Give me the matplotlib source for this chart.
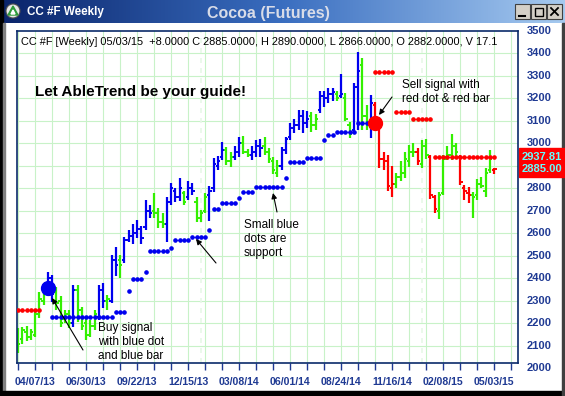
import numpy as np
import matplotlib
matplotlib.use('Agg')
import matplotlib.pyplot as plt
from matplotlib.patches import Rectangle, Circle, Polygon
from matplotlib.colors import LinearSegmentedColormap
from matplotlib.transforms import blended_transform_factory

plt.rcParams['font.family'] = ['Liberation Sans', 'DejaVu Sans']

# # Data (weekly bars, 03/10/13 .. 05/03/15)

highs = [2180, 2185, 2190, 2175, 2260, 2340, 2360, 2430, 2415, 2360,
         2320, 2260, 2260, 2370, 2370, 2275, 2230, 2215, 2260, 2370,
         2380, 2325, 2505, 2540, 2505, 2585, 2615, 2640, 2660, 2635,
         2750, 2725, 2780, 2715, 2690, 2760, 2825, 2800, 2845, 2790,
         2835, 2825, 2760, 2705, 2780, 2810, 2935, 2945, 3005, 2985,
         2960, 2990, 3030, 3035, 2975, 2990, 3015, 3020, 3030, 2980,
         2940, 2925, 2985, 3030, 3090, 3110, 3150, 3150, 3145, 3140,
         3130, 3235, 3235, 3245, 3245, 3235, 3310, 3225, 3095, 3270,
         3405, 3380, 3170, 3215, 3185, 3090, 2960, 2950, 2900, 2870,
         2920, 2960, 2995, 3000, 2980, 3015, 3020, 2950, 2770, 2785,
         2950, 2990, 3040, 3000, 2950, 2815, 2805, 2785, 2840, 2850,
         2890, 2970, 2890]

lows = [2070, 2110, 2120, 2125, 2140, 2225, 2280, 2320, 2295, 2260,
        2185, 2200, 2180, 2185, 2205, 2170, 2125, 2140, 2170, 2215,
        2270, 2260, 2290, 2410, 2400, 2470, 2560, 2555, 2580, 2555,
        2615, 2670, 2670, 2625, 2625, 2560, 2725, 2740, 2745, 2725,
        2750, 2770, 2650, 2650, 2690, 2655, 2785, 2880, 2925, 2905,
        2895, 2925, 2940, 2955, 2940, 2925, 2940, 2940, 2950, 2915,
        2865, 2850, 2880, 2955, 3015, 3045, 3060, 3045, 3070, 3050,
        3060, 3135, 3160, 3180, 3190, 3190, 3200, 3100, 3025, 3045,
        3060, 3060, 3060, 3025, 3070, 2890, 2880, 2790, 2760, 2800,
        2835, 2845, 2895, 2940, 2905, 2890, 2930, 2755, 2690, 2665,
        2770, 2925, 2925, 2940, 2815, 2750, 2735, 2670, 2750, 2800,
        2760, 2870, 2866]

opens = [2150, 2130, 2160, 2140, 2150, 2240, 2300, 2340, 2400, 2340,
         2300, 2220, 2240, 2200, 2350, 2260, 2200, 2150, 2190, 2230,
         2350, 2300, 2300, 2480, 2480, 2480, 2570, 2590, 2600, 2620,
         2630, 2700, 2700, 2690, 2650, 2640, 2740, 2790, 2760, 2780,
         2760, 2800, 2740, 2670, 2700, 2770, 2800, 2900, 2940, 2970,
         2920, 2940, 2960, 3000, 2960, 2950, 2960, 2990, 2990, 2960,
         2920, 2870, 2900, 2970, 3030, 3070, 3080, 3120, 3090, 3120,
         3080, 3150, 3210, 3200, 3220, 3220, 3210, 3200, 3080, 3060,
         3250, 3350, 3120, 3080, 3170, 3070, 2930, 2920, 2800, 2820,
         2850, 2870, 2920, 2960, 2960, 2910, 2990, 2940, 2760, 2700,
         2780, 2940, 2950, 2990, 2940, 2800, 2780, 2770, 2770, 2820,
         2790, 2880, 2882]

closes = [2110, 2170, 2140, 2160, 2240, 2310, 2340, 2400, 2330, 2290,
          2200, 2240, 2200, 2350, 2260, 2190, 2150, 2190, 2240, 2350,
          2300, 2310, 2480, 2460, 2460, 2570, 2590, 2600, 2620, 2580,
          2700, 2690, 2690, 2650, 2640, 2740, 2800, 2760, 2800, 2740,
          2800, 2790, 2670, 2690, 2760, 2790, 2910, 2920, 2970, 2920,
          2940, 2960, 3000, 2960, 2950, 2960, 2990, 2980, 2960, 2930,
          2880, 2900, 2970, 3020, 3070, 3080, 3120, 3090, 3110, 3080,
          3110, 3210, 3200, 3220, 3230, 3200, 3220, 3110, 3040, 3250,
          3320, 3120, 3080, 3180, 3090, 2930, 2920, 2810, 2820, 2850,
          2870, 2930, 2960, 2960, 2920, 2990, 2950, 2770, 2710, 2770,
          2930, 2950, 2990, 2960, 2830, 2790, 2770, 2760, 2820, 2810,
          2870, 2930, 2885]

# b = up trend (blue), g = neutral (green), r = down trend (red)
bar_trend = list("ggggggg" "bb" "gggg" "b" "ggggg" "bb" "g" "bb" "g" "bbbbbbb"
                 "ggg" "bbbb" "g" "bb" "ggg" "bbbb" "gg" "bb" "gg" "bbb" "gggg"
                 "bbbbbbb" "gg" "bbbb" "g" "b" "gg" "bb" "gg" "b" "rrrrr"
                 "ggggg" "r" "gg" "rr" "ggggg" "rrr" "ggggg" "r")

# support dots (blue) : start bar, end bar, level
support_start = [8, 23, 26, 27, 30, 31, 36, 37, 41, 45, 46, 48, 52, 53, 56, 63, 64, 68, 72, 73, 75, 80]
support_end = [22, 25, 26, 29, 30, 35, 36, 40, 44, 45, 47, 51, 52, 55, 62, 63, 67, 71, 72, 74, 79, 83]
support_level = [2228, 2252, 2343, 2397, 2428, 2523, 2534, 2573, 2585, 2615, 2708,
                 2734, 2757, 2784, 2805, 2845, 2918, 2934, 3015, 3037, 3050, 3090]

# resistance dots (red)
resist_start = [0, 84, 89, 93, 98]
resist_end = [5, 88, 92, 97, 112]
resist_level = [2260, 3317, 3138, 3108, 2937.81]

# signals
buy_bar, buy_price = 7, 2357
sell_bar, sell_price = 84, 3092

date_pos = [4, 16, 28, 40, 52, 64, 76, 88, 100, 112]
date_labels = ['04/07/13', '06/30/13', '09/22/13', '12/15/13', '03/08/14',
               '06/01/14', '08/24/14', '11/16/14', '02/08/15', '05/03/15']
price_labels = [3500, 3400, 3300, 3200, 3100, 3000, 2800, 2700, 2600,
                2500, 2400, 2300, 2200, 2100, 2000]
last_values = ['2937.81', '2885.00']

W, H = 565, 396
NAVY = '#1F3A93'
colors = {'b': '#0000EE', 'g': '#33F000', 'r': '#FF0000'}

fig = plt.figure(figsize=(W / 100, H / 100), dpi=100)

# # Window frame (pixel coordinates)
bg = fig.add_axes([0, 0, 1, 1], zorder=0)
grad = np.linspace(0, 1, 256).reshape(1, -1)
cmap = LinearSegmentedColormap.from_list('titlebar', ['#0A246A', '#3A6EC0', '#A6CAF0'])
bg.imshow(grad, extent=(0, W, 23, 0), aspect='auto', cmap=cmap)
bg.set_xlim(0, W)
bg.set_ylim(H, 0)
bg.axis('off')
bg.add_patch(Rectangle((0, 0), 3, H, color='black'))
bg.add_patch(Rectangle((3, 23), 2, H, color='#808080'))
bg.add_patch(Rectangle((0, 391), W, 5, color='black'))
bg.add_patch(Rectangle((562, 23), 3, H, color='#404040'))

# icon
bg.add_patch(Circle((13, 11), 7, facecolor='#E8E8E8', edgecolor='#505050', lw=0.8))
bg.add_patch(Polygon([(8, 15), (13, 6), (18, 15)], color='#2E9A3A'))
bg.add_patch(Polygon([(11, 14), (13, 10), (15, 14)], color='white'))
bg.text(27, 11.5, 'CC #F Weekly', color='white', fontsize=8.4, fontweight='bold', va='center')
bg.text(268, 13.5, 'Cocoa (Futures)', color='#D8DCE8', fontsize=11.5, fontweight='bold',
        ha='center', va='center')

# window buttons
for bx in [515, 531, 547]:
    bg.add_patch(Rectangle((bx, 4), 15, 15, facecolor='#D4D0C8', edgecolor='#404040', lw=0.8))
bg.plot([519, 525], [16, 16], color='black', lw=1.5)
bg.add_patch(Rectangle((534.5, 7.5), 8, 8, facecolor='none', edgecolor='black', lw=1))
bg.plot([551, 558], [8, 15], color='black', lw=1.3)
bg.plot([551, 558], [15, 8], color='black', lw=1.3)

# last value box
bg.add_patch(Rectangle((519, 148), 46, 29, color='#FF0000'))
bg.text(542, 156.5, last_values[0], color='#66FFFF', fontsize=8, fontweight='bold', ha='center', va='center')
bg.text(542, 169.5, last_values[1], color='#66FFFF', fontsize=8, fontweight='bold', ha='center', va='center')

# # Price chart
ax = fig.add_axes([17 / W, 1 - 363 / H, 501 / W, 332 / H], zorder=1)
ax.set_facecolor('white')
ax.set_xlim(-0.25, 117.6)
ax.set_ylim(2024, 3500)

for p in range(2100, 3500, 100):
    ax.axhline(p, color='#C8F2C8', lw=0.8, zorder=0)
for k in range(0, 118, 4):
    ax.axvline(k, color='#C8F2C8', lw=0.8, zorder=0)
for k in [43, 95]:
    ax.axvline(k, color='#E8F8E8', lw=1.2, ls=(0, (3, 3)), zorder=0)

x = np.arange(len(highs))
for k in x:
    c = colors[bar_trend[k]]
    ax.vlines(k, lows[k], highs[k], color=c, lw=1.6, zorder=2)
    ax.hlines(opens[k], k - 0.55, k, color=c, lw=1.4, zorder=2)
    ax.hlines(closes[k], k, k + 0.55, color=c, lw=1.4, zorder=2)

for s, e, lvl in zip(support_start, support_end, support_level):
    xs = np.arange(s, e + 1)
    ax.plot(xs, [lvl] * len(xs), '-o', color='#0000EE', ms=2.3, lw=0.6, zorder=3)
for s, e, lvl in zip(resist_start, resist_end, resist_level):
    xs = np.arange(s, e + 1)
    ax.plot(xs, [lvl] * len(xs), '-o', color='#FF0000', ms=2.3, lw=0.6, zorder=3)

ax.plot(buy_bar, buy_price, 'o', color='#0000EE', ms=10, zorder=4)
ax.plot(sell_bar, sell_price, 'o', color='#FF0000', ms=10, zorder=4)

# axes styling
for sp in ax.spines.values():
    sp.set_color('#0A2A6A')
    sp.set_linewidth(1.2)
ax.set_yticks([])
ax.set_xticks(date_pos, labels=date_labels)
ax.set_xticks(range(0, 118, 4), minor=True)
ax.tick_params(axis='x', which='both', length=5, width=1, color=NAVY)
ax.tick_params(axis='x', which='major', pad=5, labelsize=7.6, labelcolor=NAVY)
for lab in ax.get_xticklabels():
    lab.set_fontweight('bold')

trans = blended_transform_factory(ax.transAxes, ax.transData)
for p in price_labels:
    ax.text(1.018, p, str(p), transform=trans, clip_on=False, color=NAVY,
            fontsize=8, fontweight='bold', va='center', ha='left')

# # Texts and arrows (pixel coordinates)
ov = fig.add_axes([0, 0, 1, 1], zorder=3)
ov.set_xlim(0, W)
ov.set_ylim(H, 0)
ov.axis('off')

ov.text(21, 42, 'CC #F [Weekly] 05/03/15  +8.0000 C 2885.0000, H 2890.0000, L 2866.0000, '
        'O 2882.0000, V 17.1', fontsize=7.9, va='center', ha='left')
ov.text(35, 92, 'Let AbleTrend be your guide!', fontsize=11, fontweight='bold', va='center')

ov.text(98, 342, 'Buy signal\nwith blue dot\nand blue bar', fontsize=8.5, va='center',
        linespacing=1.25)
ov.text(244, 239, 'Small blue\ndots are\nsupport', fontsize=8.5, va='center', linespacing=1.25)
ov.text(402, 92, 'Sell signal with\nred dot & red bar', fontsize=8.5, va='center',
        linespacing=1.25)

arrow = dict(arrowstyle='-|>', color='black', lw=0.8, mutation_scale=8, shrinkA=0, shrinkB=0)
ov.annotate('', xy=(52, 298), xytext=(83, 350), arrowprops=arrow)
ov.annotate('', xy=(196, 239), xytext=(216, 263), arrowprops=arrow)
ov.annotate('', xy=(273, 193), xytext=(277, 212), arrowprops=arrow)
ov.annotate('', xy=(379, 115), xytext=(392, 97), arrowprops=arrow)

fig.savefig('out.png', dpi=100)
